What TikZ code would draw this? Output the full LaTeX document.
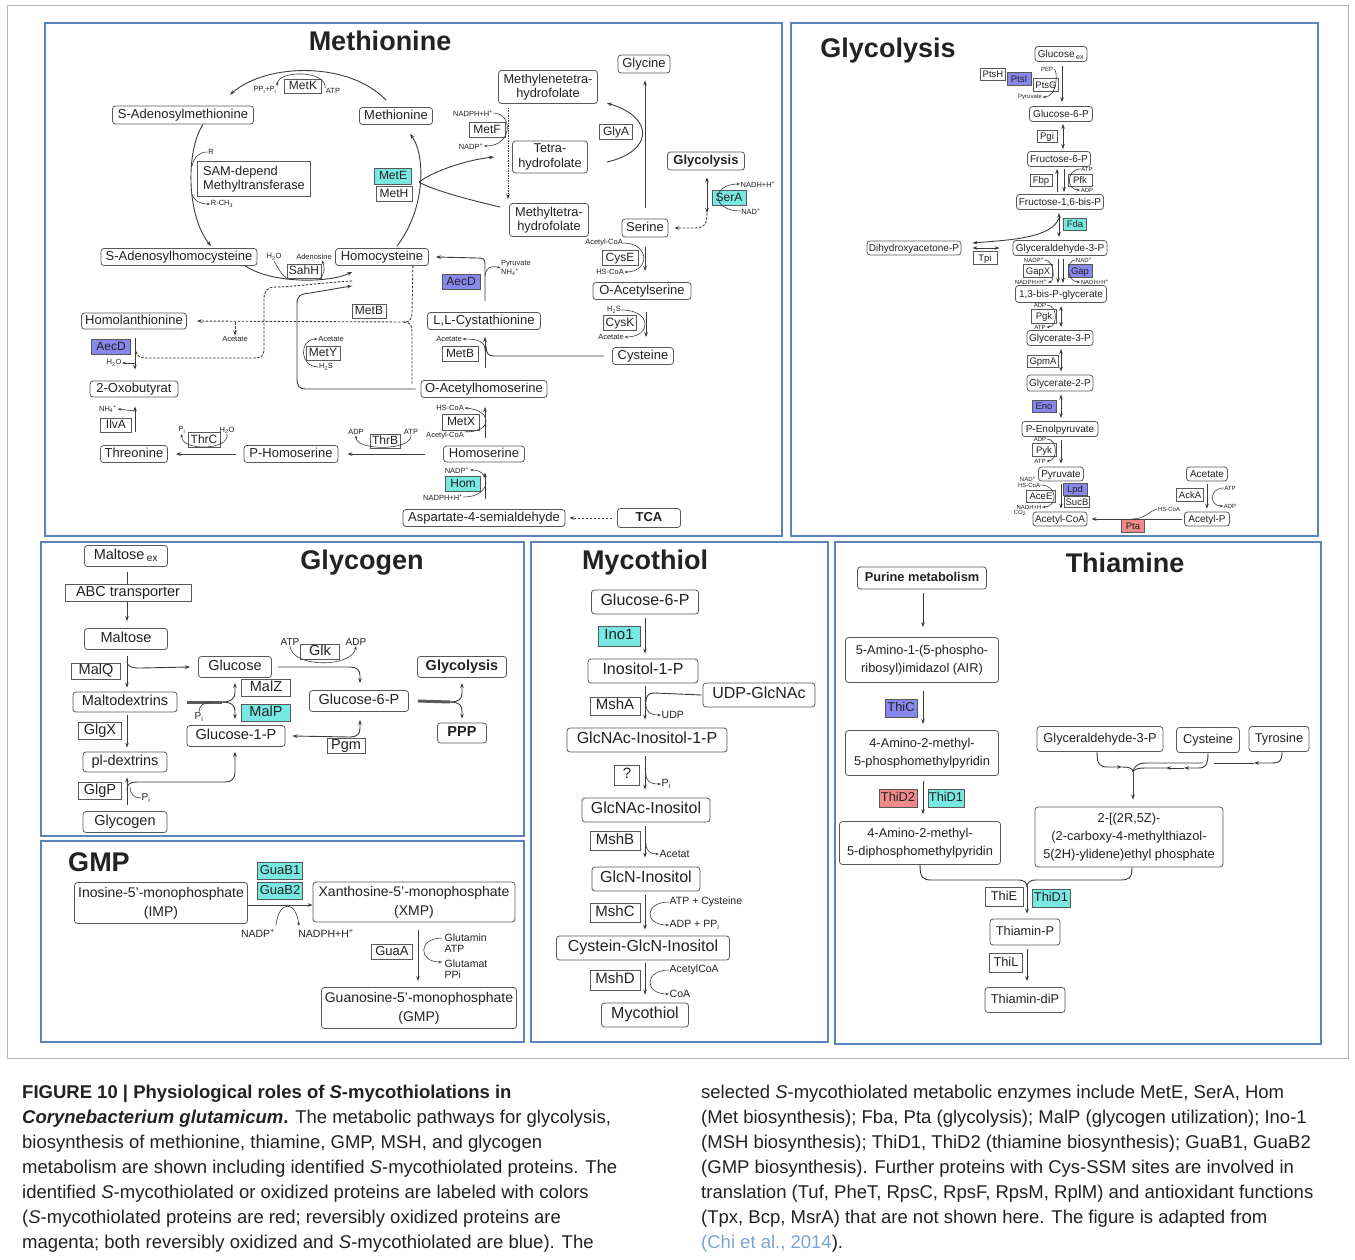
\documentclass[tikz,border=0pt]{standalone}
\usepackage{fontspec}
\setmainfont{Liberation Sans}
\usetikzlibrary{arrows.meta}

\definecolor{mycink}{HTML}{222222}
\definecolor{mycline}{HTML}{3C3C3C}
\definecolor{mycbox}{HTML}{585858}
\definecolor{mycpanel}{HTML}{5B84BE}
\definecolor{mycframe}{HTML}{B4B4B4}
\definecolor{myccyan}{HTML}{78E8E2}
\definecolor{mycblue}{HTML}{8787EE}
\definecolor{mycred}{HTML}{EE8A8A}
\definecolor{myclink}{HTML}{7BA3D3}

\newcommand{\subx}[1]{\textsubscript{#1}}
\newcommand{\supx}[1]{\textsuperscript{#1}}
\newcommand{\fTitle}{\fontsize{27}{30}\selectfont\bfseries}
\newcommand{\fMet}{\fontsize{13}{16}\selectfont}
\newcommand{\fMetTwo}{\fontsize{12.8}{14.5}\selectfont}
\newcommand{\fMetEnz}{\fontsize{12}{14.5}\selectfont}
\newcommand{\fMetCo}{\fontsize{7.5}{8.5}\selectfont}
\newcommand{\fGly}{\fontsize{10}{12}\selectfont}
\newcommand{\fGlyEnz}{\fontsize{9.5}{11}\selectfont}
\newcommand{\fGlyCo}{\fontsize{6}{7}\selectfont}
\newcommand{\fGlg}{\fontsize{14.5}{17}\selectfont}
\newcommand{\fGlgCo}{\fontsize{10}{11}\selectfont}
\newcommand{\fGmp}{\fontsize{14}{19}\selectfont}
\newcommand{\fGmpEnz}{\fontsize{13}{15}\selectfont}
\newcommand{\fGmpCo}{\fontsize{10.5}{11.5}\selectfont}
\newcommand{\fMsh}{\fontsize{16}{19}\selectfont}
\newcommand{\fMshEnz}{\fontsize{15}{17}\selectfont}
\newcommand{\fMshCo}{\fontsize{10.5}{12}\selectfont}
\newcommand{\fThi}{\fontsize{12.8}{18.3}\selectfont}
\newcommand{\fCap}{\fontsize{18.5}{25}\selectfont}

\begin{document}
\begin{tikzpicture}[
  x=1pt,
  y=-1pt,
  every node/.style={text=mycink},
  sz/.style 2 args={minimum width=#1pt, minimum height=#2pt},
  one/.style={text height=0.72em, text depth=0.02em},
  mbox/.style={draw=mycbox, line width=0.8pt, rounded corners=3pt, fill=white, align=center, inner sep=1pt},
  ebox/.style={draw=mycbox, line width=0.8pt, fill=white, align=center, inner sep=1pt},
  cof/.style={inner sep=0.5pt, align=left},
  cyanfill/.style={fill=myccyan},
  bluefill/.style={fill=mycblue},
  redfill/.style={fill=mycred},
  frame/.style={draw=mycframe, line width=0.8pt},
  panel/.style={draw=mycpanel, line width=1.1pt},
  ptitle/.style={font=\fTitle, inner sep=0pt},
  conv/.style={draw=mycline, line width=0.9pt, >={Stealth[length=5pt, width=3.6pt]}, ->},
  convb/.style={conv, <->},
  link/.style={draw=mycline, line width=0.9pt},
  dashconv/.style={conv, dash pattern=on 2.5pt off 1.5pt},
  dashlink/.style={link, dash pattern=on 2.5pt off 1.5pt},
  dotconv/.style={conv, dash pattern=on 1.2pt off 1.3pt},
  sidearr/.style={draw=mycline, line width=0.6pt, >={Stealth[length=3.5pt, width=2.6pt]}, ->},
  sideline/.style={draw=mycline, line width=0.6pt},
  bar/.style={draw=mycline!85, line width=3pt},
  metMe/.style={mbox, font=\fMet, one},
  metMeML/.style={mbox, font=\fMetTwo},
  enzMe/.style={ebox, font=\fMetEnz, one},
  coMe/.style={cof, font=\fMetCo},
  metGl/.style={mbox, font=\fGly, one},
  enzGl/.style={ebox, font=\fGlyEnz, one},
  coGl/.style={cof, font=\fGlyCo},
  metGg/.style={mbox, font=\fGlg, one},
  enzGg/.style={ebox, font=\fGlg, one},
  coGg/.style={cof, font=\fGlgCo},
  metGm/.style={mbox, font=\fGmp},
  enzGm/.style={ebox, font=\fGmpEnz, one},
  coGm/.style={cof, font=\fGmpCo},
  metMs/.style={mbox, font=\fMsh, one},
  enzMs/.style={ebox, font=\fMshEnz, one},
  coMs/.style={cof, font=\fMshCo},
  metTh/.style={mbox, font=\fThi, one},
  metThML/.style={mbox, font=\fThi},
  enzTh/.style={ebox, font=\fThi, one}
]
  % ---- page and outer frame ---------------------------------------------
  \useasboundingbox (0,0) rectangle (1355,1259);
  \fill[white] (0,0) rectangle (1355,1259);
  \draw[frame] (7,5) rectangle (1348,1058);

  % ---- Methionine --------------------------------------------------------
  \draw[panel] (45,23) rectangle (782,536);
  \node[ptitle] (titMet) at (380,41) {Methionine};

  \node[metMe, sz={141}{18}] (sam) at (183,115) {S-Adenosylmethionine};
  \node[metMe, sz={73}{17}] (met) at (396,116) {Methionine};
  \node[ebox, font=\fMetTwo, align=left, sz={113}{35}] (samMT) at (254,179) {SAM-depend\\Methyltransferase};
  \node[metMe, sz={156}{17}] (sah) at (179,257) {S-Adenosylhomocysteine};
  \node[metMe, sz={93}{17}] (hcy) at (382,257) {Homocysteine};
  \node[enzMe, sz={37}{14}] (metK) at (303,86) {MetK};
  \node[coMe] (ppK) at (265,90) {PP\subx{i}+P\subx{i}};
  \node[coMe] (atpK) at (333,91) {ATP};
  \node[enzMe, sz={37}{16}, cyanfill] (metE) at (393,176) {MetE};
  \node[enzMe, sz={36}{15}] (metH) at (394,194) {MetH};
  \node[coMe] (rIn) at (211,152) {R};
  \node[coMe] (rOut) at (222,204) {R-CH\subx{3}};
  \node[coMe] (h2oS) at (274,257) {H\subx{2}O};
  \node[coMe] (adoS) at (314,257) {Adenosine};
  \node[enzMe, sz={34}{14}] (sahH) at (304,271) {SahH};

  \draw[conv] ([shift={(-10,-7)}]met.north) .. controls (350,62) and (268,62) .. ([shift={(47,-11)}]sam.north);
  \draw[sidearr] (atpK.north west) .. controls (326,70) and (278,70) .. (ppK.north east);
  \draw[conv] ([shift={(20,0)}]sam.south) .. controls (186,150) and (186,215) .. ([shift={(32,-2)}]sah.north);
  \coordinate (samR) at (192,166);
  \coordinate (samRCH) at (192,194);
  \draw[sideline] (rIn.west) .. controls (199,152) and (194,157) .. (samR);
  \draw[sidearr] (samRCH) .. controls (194,201) and (200,204) .. (rOut.west);
  \draw[conv] ([shift={(15,-2)}]hcy.north) .. controls (428,205) and (424,152) .. ([shift={(14,9)}]met.south);

  \node[metMeML, sz={99}{33}] (mlthf) at (548,87) {Methylenetetra-\\hydrofolate};
  \node[metMeML, sz={75}{32}] (thf) at (550,157) {Tetra-\\hydrofolate};
  \node[metMeML, sz={79}{33}] (mthf) at (549,220) {Methyltetra-\\hydrofolate};
  \coordinate (meCusp) at (419,182);
  \draw[link] ([shift={(-9,-13)}]mthf.west) .. controls (470,200) and (432,190) .. (meCusp);
  \draw[conv] (meCusp) .. controls (432,172) and (465,160) .. ([shift={(-18,0)}]thf.west);

  \coordinate (sahA) at (288,279);
  \coordinate (sahB) at (319,279);
  \draw[conv] ([shift={(-12,0)}]sah.south east) .. controls (272,284) and (330,283) .. ([shift={(17,6)}]hcy.south west);
  \draw[sideline] (h2oS.south) .. controls (277,266) and (281,275) .. (sahA);
  \draw[sidearr] (sahB) .. controls (325,275) and (325,267) .. ([xshift=8pt]adoS.south);

  % side routes of homocysteine
  \node[enzMe, sz={34}{14}] (metB1) at (369,311) {MetB};
  \node[metMe, sz={105}{16}] (hla) at (134,321) {Homolanthionine};
  \node[coMe] (acA) at (235,339) {Acetate};
  \node[enzMe, sz={39}{15}, bluefill] (aecD1) at (111,347) {AecD};
  \node[coMe] (h2oA) at (114,363) {H\subx{2}O};
  \node[metMe, sz={88}{16}] (oxb) at (134,389) {2-Oxobutyrat};
  \node[enzMe, sz={31}{14}] (ilvA) at (116,425) {IlvA};
  \node[coMe] (nh4I) at (108,409) {NH\subx{4}\supx{+}};

  \draw[dashlink] ([shift={(17,15)}]hcy.south west) .. controls (320,283) and (290,287) .. (276,287) .. controls (267,287) and (264,291) .. (264,299) -- (264,349) .. controls (264,356) and (261,358) .. (254,358) -- (146,358) .. controls (139,358) and (136,355) .. (136,350);
  \draw[dashlink] ([shift={(-16,0)}]hcy.south east) -- (412,312) .. controls (412,319) and (410,322) .. (404,322);
  \draw[dashlink] (404,322) .. controls (410,322) and (412,325) .. (412,332) -- (412,385);
  \draw[dashconv, shorten >=10pt] (404,322) -- (hla.east);
  \draw[dashconv] (235,322) -- (acA.north);
  \draw[conv] ([shift={(1,9)}]hla.south) -- ([shift={(1,-11)}]oxb.north);
  \draw[sidearr] (135,363) -- (h2oA.east);

  \node[metMe, sz={67}{17}] (thr) at (134,454) {Threonine};
  \node[metMe, sz={94}{17}] (phs) at (291,454) {P-Homoserine};
  \node[enzMe, sz={32}{15}] (thrC) at (204,440) {ThrC};
  \node[coMe] (piT) at (182,430) {P\subx{i}};
  \node[coMe] (h2oT) at (227,430) {H\subx{2}O};
  \draw[conv] ([shift={(1,-13)}]thr.north) -- ([shift={(1,9)}]oxb.south);
  \draw[sidearr] (135,411) -- (nh4I.east);
  \draw[conv, shorten <=8pt, shorten >=8pt] (phs.west) -- (thr.east);
  \draw[sidearr] (h2oT.south) .. controls (230,451) and (180,451) .. (piT.south);

  \node[enzMe, sz={30}{14}] (thrB) at (385,441) {ThrB};
  \node[coMe] (adpB) at (356,432) {ADP};
  \node[coMe] (atpB) at (411,432) {ATP};
  \node[metMe, sz={81}{16}] (hse) at (484,454) {Homoserine};
  \node[metMe, sz={126}{17}] (oah) at (484,389) {O-Acetylhomoserine};
  \draw[conv, shorten <=18pt, shorten >=9pt] (hse.west) -- (phs.east);
  \draw[sidearr] (atpB.south) .. controls (412,451) and (356,451) .. (adpB.south);

  \node[enzMe, sz={37}{16}] (metX) at (461,422) {MetX};
  \node[coMe] (hscoaX) at (450,408) {HS-CoA};
  \node[coMe] (accoaX) at (445,436) {Acetyl-CoA};
  \draw[conv] ([shift={(1,-8)}]hse.north) -- ([shift={(1,9)}]oah.south);
  \draw[sidearr] (accoaX.north east) .. controls (493,433) and (493,410) .. (hscoaX.east);

  \node[enzMe, sz={34}{14}] (metY) at (323,353) {MetY};
  \node[coMe] (acY) at (331,339) {Acetate};
  \node[coMe] (h2sY) at (326,367) {H\subx{2}S};
  \draw[conv] ([xshift=-5pt]oah.west) -- (306,389) .. controls (299,389) and (297,386) .. (297,378) -- (297,304) .. controls (297,296) and (300,294) .. (310,293) -- ([shift={(17,20)}]hcy.south west);
  \draw[sidearr] (h2sY.west) .. controls (299,367) and (299,339) .. (acY.west);

  \node[metMe, sz={113}{17}] (cth) at (484,321) {L,L-Cystathionine};
  \node[enzMe, sz={36}{15}] (metB2) at (460,354) {MetB};
  \node[coMe] (acB) at (449,339) {Acetate};
  \node[metMe, sz={61}{17}] (cys) at (643,356) {Cysteine};
  \coordinate (cysJoin) at (486,346);
  \draw[conv] ([shift={(1,-12)}]oah.north) -- ([shift={(1,7)}]cth.south);
  \draw[link] ([xshift=-8pt]cys.west) -- (494,356) .. controls (488,356) and (486,353) .. (cysJoin);
  \draw[sidearr] (485,351) .. controls (485,342) and (480,339) .. (acB.east);

  \node[enzMe, sz={38}{15}, bluefill] (aecD2) at (461,282) {AecD};
  \node[coMe] (pyrA) at (516,268) {Pyruvate\\NH\subx{4}\supx{+}};
  \draw[conv] ([shift={(1,-11)}]cth.north) -- (485,264) .. controls (485,259) and (483,258) .. (478,258) -- ([xshift=7pt]hcy.east);
  \draw[sidearr] (485,276) .. controls (486,268) and (490,265) .. (pyrA.west);

  \node[metMe, sz={98}{17}] (oas) at (642,291) {O-Acetylserine};
  \node[enzMe, sz={33}{15}] (cysK) at (620,323) {CysK};
  \node[coMe] (h2sK) at (614,310) {H\subx{2}S};
  \node[coMe] (acK) at (611,337) {Acetate};
  \draw[conv] ([shift={(4,12)}]oas.south) -- ([shift={(3,-10)}]cys.north);
  \draw[sidearr] (h2sK.east) .. controls (652,310) and (652,337) .. (acK.east);

  \node[metMe, sz={46}{18}] (ser) at (645,228) {Serine};
  \node[enzMe, sz={36}{15}] (cysE) at (620,258) {CysE};
  \node[coMe] (accoaE) at (604,243) {Acetyl-CoA};
  \node[coMe] (hscoaE) at (610,272) {HS-CoA};
  \draw[conv] ([shift={(0,10)}]ser.south) -- ([shift={(3,-11)}]oas.north);
  \draw[sidearr] (accoaE.east) .. controls (650,243) and (650,272) .. (hscoaE.east);

  \node[metMe, sz={52}{18}] (gly) at (644,64) {Glycine};
  \node[enzMe, sz={33}{15}] (glyA) at (616,132) {GlyA};
  \draw[conv] ([shift={(0,-11)}]ser.north) -- ([shift={(1,7)}]gly.south);
  \draw[conv] ([shift={(19,5)}]thf.east) .. controls (652,152) and (656,118) .. ([shift={(9,16)}]mlthf.east);

  \node[enzMe, sz={36}{15}] (metF) at (487,130) {MetF};
  \node[coMe] (nadphF) at (473,113) {NADPH+H\supx{+}};
  \node[coMe] (nadpF) at (471,146) {NADP\supx{+}};
  \draw[dotconv] ([shift={(-40,4)}]mlthf.south) -- ([shift={(-41,-4)}]mthf.north);
  \draw[sidearr] (nadphF.east) .. controls (513,113) and (513,146) .. (nadpF.east);

  \node[metMe, sz={77}{18}, font=\fMet\bfseries] (glyc1) at (706,161) {Glycolysis};
  \node[enzMe, sz={34}{15}, cyanfill] (serA) at (729,198) {SerA};
  \node[coMe] (nadhS) at (758,184) {NADH+H\supx{+}};
  \node[coMe] (nadS) at (751,211) {NAD\supx{+}};
  \draw[convb] ([shift={(1,7)}]glyc1.south) -- (707,213);
  \draw[dashconv] (707,213) .. controls (707,226) and (703,228) .. (694,228) -- ([xshift=6pt]ser.east);
  \draw[sidearr] (nadS.west) .. controls (711,211) and (711,184) .. (nadhS.west);

  \node[metMe, sz={162}{17}] (asa) at (484,518) {Aspartate-4-semialdehyde};
  \node[metMe, sz={63}{19}, font=\fMet\bfseries] (tca) at (649,518) {TCA};
  \node[enzMe, sz={35}{15}, cyanfill] (hom) at (463,484) {Hom};
  \node[coMe] (nadpH) at (457,470) {NADP\supx{+}};
  \node[coMe] (nadphH) at (443,497) {NADPH+H\supx{+}};
  \draw[dashconv] ([xshift=-5pt]tca.west) -- ([xshift=4pt]asa.east);
  \draw[conv] ([shift={(1,-10)}]asa.north) -- ([shift={(1,10)}]hse.south);
  \draw[sidearr] (nadphH.east) .. controls (492,497) and (492,470) .. (nadpH.east);

  % ---- Glycolysis --------------------------------------------------------
  \draw[panel] (791,23) rectangle (1318,536);
  \node[ptitle] (titGly) at (888,51) {Glycolysis};

  \node[metGl, sz={52}{15}] (glcex) at (1061,54) {Glucose\,\subx{ex}};
  \node[enzGl, sz={25}{12}] (ptsH) at (993,74) {PtsH};
  \node[enzGl, sz={24}{13}, bluefill] (ptsI) at (1019,79) {PtsI};
  \node[enzGl, sz={25}{13}] (ptsG) at (1046,85) {PtsG};
  \node[coGl] (pepP) at (1047,69) {PEP};
  \node[coGl] (pyrP) at (1030,97) {Pyruvate};
  \node[metGl, sz={63}{15}] (g6pA) at (1061,114) {Glucose-6-P};
  \draw[conv] ([shift={(1,4)}]glcex.south) -- ([shift={(1,-4)}]g6pA.north);
  \draw[sidearr] (pepP.east) .. controls (1058,69) and (1058,97) .. (pyrP.east);

  \node[enzGl, sz={20}{12}] (pgi) at (1047,136) {Pgi};
  \node[metGl, sz={63}{15}] (f6p) at (1059,159) {Fructose-6-P};
  \draw[convb] ([shift={(2,2)}]g6pA.south) -- ([shift={(4,-2)}]f6p.north);

  \node[enzGl, sz={22}{12}] (fbp) at (1041,180) {Fbp};
  \node[enzGl, sz={24}{12}] (pfk) at (1080,180) {Pfk};
  \node[coGl] (atpF) at (1087,169) {ATP};
  \node[coGl] (adpF) at (1087,190) {ADP};
  \node[metGl, sz={87}{15}] (fbpP) at (1060,202) {Fructose-1,6-bis-P};
  \draw[conv] ([shift={(-3,-2)}]fbpP.north) -- ([shift={(-2,2)}]f6p.south);
  \draw[conv] ([shift={(5,2)}]f6p.south) -- ([shift={(4,-2)}]fbpP.north);
  \draw[sidearr] (atpF.west) .. controls (1066,169) and (1066,190) .. (adpF.west);

  \node[enzGl, sz={23}{12}, cyanfill] (fda) at (1075,224) {Fda};
  \node[metGl, sz={94}{14}] (dhap) at (914,248) {Dihydroxyacetone-P};
  \node[enzGl, sz={24}{13}] (tpi) at (985,258) {Tpi};
  \node[metGl, sz={94}{15}] (g3pA) at (1060,248) {Glyceraldehyde-3-P};
  \coordinate (fdaSplit) at (1059,218);
  \draw[convb] ([shift={(-1,3)}]fbpP.south) -- ([shift={(-1,-3)}]g3pA.north);
  \draw[conv] (fdaSplit) .. controls (1052,238) and (1010,240) .. ([shift={(11,-5)}]dhap.east);
  \draw[convb] ([xshift=11pt]dhap.east) -- ([xshift=-13pt]g3pA.west);

  \node[enzGl, sz={29}{13}] (gapX) at (1038,271) {GapX};
  \node[enzGl, sz={24}{13}, bluefill] (gap) at (1080,271) {Gap};
  \node[coGl] (nadpG) at (1034,260) {NADP\supx{+}};
  \node[coGl] (nadG) at (1084,260) {NAD\supx{+}};
  \node[coGl] (nadphG) at (1031,282) {NADPH+H\supx{+}};
  \node[coGl] (nadhG) at (1095,282) {NADH+H\supx{+}};
  \node[metGl, sz={91}{17}] (bpg) at (1061,294) {1,3-bis-P-glycerate};
  \draw[conv] ([shift={(-2,3)}]g3pA.south) -- ([shift={(-3,-2)}]bpg.north);
  \draw[conv] ([shift={(3,3)}]g3pA.south) -- ([shift={(2,-2)}]bpg.north);
  \draw[sidearr] (nadpG.east) .. controls (1055,260) and (1055,282) .. (nadphG.east);
  \draw[sidearr] (nadG.west) .. controls (1066,260) and (1066,282) .. (nadhG.west);

  \node[enzGl, sz={25}{14}] (pgk) at (1044,316) {Pgk};
  \node[coGl] (adpK) at (1040,305) {ADP};
  \node[coGl] (atpK2) at (1040,327) {ATP};
  \node[metGl, sz={66}{15}] (pg3) at (1060,338) {Glycerate-3-P};
  \draw[convb] ([shift={(0,3)}]bpg.south) -- ([shift={(1,-3)}]pg3.north);
  \draw[sidearr] (adpK.east) .. controls (1058,305) and (1058,327) .. (atpK2.east);

  \node[enzGl, sz={31}{12}] (gpmA) at (1043,361) {GpmA};
  \node[metGl, sz={66}{16}] (pg2) at (1060,383) {Glycerate-2-P};
  \draw[convb] ([shift={(1,3)}]pg3.south) -- ([shift={(1,-3)}]pg2.north);

  \node[enzGl, sz={24}{12}, bluefill] (eno) at (1044,406) {Eno};
  \node[metGl, sz={76}{15}] (pep) at (1060,429) {P-Enolpyruvate};
  \draw[convb] ([shift={(1,3)}]pg2.south) -- ([shift={(1,-3)}]pep.north);

  \node[enzGl, sz={24}{13}] (pyk) at (1044,450) {Pyk};
  \node[coGl] (adpY) at (1040,439) {ADP};
  \node[coGl] (atpY) at (1040,461) {ATP};
  \node[metGl, sz={45}{14}] (pyr) at (1061,474) {Pyruvate};
  \draw[conv] ([shift={(1,3)}]pep.south) -- ([shift={(0,-3)}]pyr.north);
  \draw[sidearr] (adpY.east) .. controls (1058,439) and (1058,461) .. (atpY.east);

  \node[enzGl, sz={24}{12}, bluefill] (lpd) at (1075,489) {Lpd};
  \node[enzGl, sz={25}{11}] (sucB) at (1077,502) {SucB};
  \node[enzGl, sz={29}{12}] (aceE) at (1041,496) {AceE};
  \node[coGl] (nadE) at (1028,479) {NAD\supx{+}};
  \node[coGl] (hscoaE2) at (1029,485) {HS-CoA};
  \node[coGl] (nadhE) at (1029,507) {NADH+H};
  \node[coGl] (co2E) at (1020,513) {CO\subx{2}};
  \node[metGl, sz={54}{14}] (accoa) at (1060,519) {Acetyl-CoA};
  \draw[conv] ([shift={(0,3)}]pyr.south) -- ([shift={(1,-3)}]accoa.north);
  \draw[sidearr] (hscoaE2.east) .. controls (1058,485) and (1058,507) .. (nadhE.east);

  \node[metGl, sz={41}{14}] (acet) at (1207,474) {Acetate};
  \node[enzGl, sz={27}{13}] (ackA) at (1190,495) {AckA};
  \node[coGl] (atpA) at (1230,488) {ATP};
  \node[coGl] (adpA) at (1230,506) {ADP};
  \node[metGl, sz={45}{14}] (acp) at (1207,519) {Acetyl-P};
  \node[enzGl, sz={23}{13}, redfill] (pta) at (1133,526) {Pta};
  \node[coGl] (hscoaP) at (1169,509) {HS-CoA};
  \draw[conv] ([shift={(0,3)}]acet.south) -- ([shift={(0,-3)}]acp.north);
  \draw[sidearr] (atpA.west) .. controls (1209,488) and (1209,506) .. (adpA.west);
  \draw[conv] ([xshift=-2pt]acp.west) -- ([xshift=4pt]accoa.east);
  \draw[sideline] (hscoaP.west) .. controls (1150,510) and (1146,519) .. (1132,519);

  % ---- Glycogen ----------------------------------------------------------
  \draw[panel] (41,542) rectangle (524,836);
  \node[ptitle] (titGlg) at (362,563) {Glycogen};

  \node[metGg, sz={83}{21}] (maltex) at (126,556) {Maltose\,\subx{ex}};
  \node[enzGg, sz={126}{17}] (abc) at (128,593) {ABC transporter};
  \node[metGg, sz={83}{21}] (malt) at (126,639) {Maltose};
  \node[enzGg, sz={49}{16}] (malQ) at (96,671) {MalQ};
  \node[metGg, sz={73}{21}] (glc) at (235,667) {Glucose};
  \node[metGg, sz={104}{20}] (mdex) at (125,702) {Maltodextrins};
  \node[enzGg, sz={49}{17}] (malZ) at (266,688) {MalZ};
  \node[enzGg, sz={49}{17}, cyanfill] (malP) at (266,713) {MalP};
  \node[metGg, sz={98}{21}] (g1p) at (236,736) {Glucose-1-P};
  \node[enzGg, sz={43}{17}] (glgX) at (100,731) {GlgX};
  \node[metGg, sz={84}{20}] (pldex) at (125,762) {pl-dextrins};
  \node[enzGg, sz={43}{17}] (glgP) at (100,791) {GlgP};
  \node[metGg, sz={84}{21}] (glyg) at (125,822) {Glycogen};
  \node[enzGg, sz={39}{15}] (glk) at (320,652) {Glk};
  \node[coGg] (atpG) at (290,642) {ATP};
  \node[coGg] (adpG) at (356,642) {ADP};
  \node[metGg, sz={99}{21}] (g6pG) at (359,701) {Glucose-6-P};
  \node[enzGg, sz={38}{15}] (pgm) at (346,746) {Pgm};
  \node[metGg, sz={89}{21}, font=\fGlg\bfseries] (glycG) at (462,667) {Glycolysis};
  \node[metGg, sz={49}{20}, font=\fGlg\bfseries] (ppp) at (462,733) {PPP};
  \node[coGg] (piZ) at (199,717) {P\subx{i}};
  \node[coGg] (piP) at (146,798) {P\subx{i}};

  \coordinate (malQSplit) at (127,661);
  \coordinate (mdexSplit) at (222,702);
  \coordinate (glgPSplit) at (127,790);
  \coordinate (g6pSplit) at (450,702);
  \draw[link, shorten <=5pt] ([xshift=1pt]maltex.south) -- ([xshift=-1pt]abc.north);
  \draw[conv, shorten >=7pt] ([xshift=-1pt]abc.south) -- ([xshift=1pt]malt.north);
  \draw[conv] ([shift={(1,6)}]malt.south) -- ([shift={(2,-4)}]mdex.north);
  \draw[conv] (malQSplit) .. controls (127,667) and (132,668) .. (140,668) -- ([xshift=-8pt]glc.west);
  \draw[bar] ([xshift=10pt]mdex.east) -- (mdexSplit);
  \draw[conv] (mdexSplit) .. controls (232,702) and (235,698) .. (235,692) -- ([shift={(0,5)}]glc.south);
  \draw[conv] (mdexSplit) .. controls (232,702) and (235,706) .. (235,711) -- ([shift={(-1,-6)}]g1p.north);
  \draw[sideline] (piZ.north) .. controls (199,706) and (203,702) .. (212,702);
  \draw[conv] ([shift={(2,3)}]mdex.south) -- ([shift={(2,-4)}]pldex.north);
  \draw[conv] ([shift={(2,-6)}]glyg.north) -- ([shift={(2,5)}]pldex.south);
  \draw[conv] (glgPSplit) .. controls (127,784) and (130,782) .. (137,782) -- (225,782) .. controls (232,782) and (235,778) .. (235,772) -- ([shift={(-1,5)}]g1p.south);
  \draw[sideline] (piP.west) .. controls (134,798) and (130,794) .. (130,787);
  \draw[conv] ([xshift=6pt]glc.east) -- (350,667) .. controls (357,667) and (360,670) .. (360,676) -- ([shift={(1,-7)}]g6pG.north);
  \draw[sidearr] (atpG.south) .. controls (292,668) and (352,668) .. (adpG.south);
  \draw[convb] ([xshift=7pt]g1p.east) -- (350,737) .. controls (357,737) and (360,734) .. (360,728) -- ([shift={(1,8)}]g6pG.south);
  \draw[bar] ([xshift=9pt]g6pG.east) -- (g6pSplit);
  \draw[conv] (g6pSplit) .. controls (459,702) and (462,699) .. (462,693) -- ([shift={(0,5)}]glycG.south);
  \draw[conv] (g6pSplit) .. controls (459,702) and (462,705) .. (462,711) -- ([shift={(0,-4)}]ppp.north);

  % ---- GMP ---------------------------------------------------------------
  \draw[panel] (41,841) rectangle (524,1042);
  \node[ptitle] (titGmp) at (99,862) {GMP};

  \node[metGm, sz={173}{41}] (imp) at (161,903) {Inosine-5'-monophosphate\\(IMP)};
  \node[metGm, sz={202}{40}] (xmp) at (414,902) {Xanthosine-5'-monophosphate\\(XMP)};
  \node[metGm, sz={195}{41}] (gmp) at (419,1008) {Guanosine-5'-monophosphate\\(GMP)};
  \node[enzGm, sz={45}{17}, cyanfill] (guaB1) at (280,871) {GuaB1};
  \node[enzGm, sz={45}{17}, cyanfill] (guaB2) at (280,891) {GuaB2};
  \node[coGm] (nadpX) at (258,933) {NADP\supx{+}};
  \node[coGm] (nadphX) at (326,933) {NADPH+H\supx{+}};
  \node[enzGm, sz={41}{15}] (guaA) at (392,952) {GuaA};
  \node[coGm, anchor=west] (glnA) at (444,943) {Glutamin\\ATP};
  \node[coGm, anchor=west] (gluA) at (444,969) {Glutamat\\PPi};

  \draw[conv] ([yshift=-2pt]imp.east) -- ([yshift=-3pt]xmp.west);
  \draw[sidearr] ([shift={(18,-3)}]nadpX.north) .. controls (279,900) and (296,900) .. ([shift={(-27,-2)}]nadphX.north);
  \draw[conv] ([shift={(4,8)}]xmp.south) -- ([shift={(-1,-6)}]gmp.north);
  \draw[sidearr] ([shift={(-2,-5)}]glnA.west) .. controls (418,938) and (418,962) .. ([shift={(-2,-7)}]gluA.west);

  % ---- Mycothiol ---------------------------------------------------------
  \draw[panel] (531,542) rectangle (828,1042);
  \node[ptitle] (titMsh) at (645,563) {Mycothiol};

  \node[metMs, sz={107}{24}] (g6pM) at (645,602) {Glucose-6-P};
  \node[enzMs, sz={42}{20}, cyanfill] (ino1) at (619,636) {Ino1};
  \node[metMs, sz={110}{24}] (ino) at (643,671) {Inositol-1-P};
  \node[enzMs, sz={50}{18}] (mshA) at (615,706) {MshA};
  \node[metMs, sz={112}{24}] (udpg) at (759,695) {UDP-GlcNAc};
  \node[coMs, anchor=west] (udp) at (661,715) {UDP};
  \node[metMs, sz={160}{24}] (gip) at (647,740) {GlcNAc-Inositol-1-P};
  \node[enzMs, sz={25}{20}] (unk) at (627,775) {?};
  \node[coMs, anchor=west] (piM) at (661,784) {P\subx{i}};
  \node[metMs, sz={128}{24}] (gi) at (646,810) {GlcNAc-Inositol};
  \node[enzMs, sz={50}{19}] (mshB) at (615,841) {MshB};
  \node[coMs, anchor=west] (acetM) at (659,854) {Acetat};
  \node[metMs, sz={108}{24}] (glcn) at (646,879) {GlcN-Inositol};
  \node[enzMs, sz={50}{19}] (mshC) at (615,913) {MshC};
  \node[coMs, anchor=west] (atpM) at (669,902) {ATP + Cysteine};
  \node[coMs, anchor=west] (adpM) at (669,925) {ADP + PP\subx{i}};
  \node[metMs, sz={173}{24}] (cgi) at (643,948) {Cystein-GlcN-Inositol};
  \node[enzMs, sz={50}{20}] (mshD) at (615,980) {MshD};
  \node[coMs, anchor=west] (accoaM) at (669,970) {AcetylCoA};
  \node[coMs, anchor=west] (coaM) at (669,994) {CoA};
  \node[metMs, sz={87}{24}] (msh) at (645,1015) {Mycothiol};

  \draw[conv] ([shift={(0,4)}]g6pM.south) -- ([shift={(2,-5)}]ino.north);
  \draw[conv] ([shift={(2,3)}]ino.south) -- ([shift={(-2,-8)}]gip.north);
  \draw[link] ([xshift=-1pt]udpg.west) -- (655,693) .. controls (648,693) and (646,696) .. (646,702);
  \draw[sidearr] (646,704) .. controls (646,712) and (650,715) .. (udp.west);
  \draw[conv] ([shift={(-2,4)}]gip.south) -- ([shift={(-1,-8)}]gi.north);
  \draw[sidearr] (646,774) .. controls (646,781) and (650,784) .. (piM.west);
  \draw[conv] ([shift={(-1,4)}]gi.south) -- ([shift={(-1,-9)}]glcn.north);
  \draw[sidearr] (646,843) .. controls (646,851) and (650,854) .. (acetM.west);
  \draw[conv] ([shift={(-1,4)}]glcn.south) -- ([shift={(2,-6)}]cgi.north);
  \draw[sidearr] (atpM.west) .. controls (644,902) and (644,925) .. (adpM.west);
  \draw[conv] ([shift={(2,3)}]cgi.south) -- ([shift={(0,-8)}]msh.north);
  \draw[sidearr] (accoaM.west) .. controls (644,970) and (644,994) .. (coaM.west);

  % ---- Thiamine ----------------------------------------------------------
  \draw[panel] (835,542) rectangle (1321,1044);
  \node[ptitle] (titThi) at (1125,563) {Thiamine};

  \node[metTh, sz={129}{22}, font=\fThi\bfseries] (pur) at (922,578) {Purine metabolism};
  \node[metThML, sz={153}{45}] (air) at (922,660) {5-Amino-1-(5-phospho-\\ribosyl)imidazol (AIR)};
  \node[enzTh, sz={32}{18}, bluefill] (thiC) at (901,708) {ThiC};
  \node[metThML, sz={153}{45}] (hmp) at (922,753) {4-Amino-2-methyl-\\5-phosphomethylpyridin};
  \node[enzTh, sz={38}{18}, redfill] (thiD2) at (898,798) {ThiD2};
  \node[enzTh, sz={36}{18}, cyanfill] (thiD1a) at (946,798) {ThiD1};
  \node[metThML, sz={161}{43}] (hmppp) at (920,843) {4-Amino-2-methyl-\\5-diphosphomethylpyridin};
  \node[metTh, sz={126}{25}] (g3pT) at (1100,739) {Glyceraldehyde-3-P};
  \node[metTh, sz={63}{25}] (cysT) at (1208,740) {Cysteine};
  \node[metTh, sz={60}{25}] (tyrT) at (1279,739) {Tyrosine};
  \node[metThML, sz={188}{60}] (thz) at (1129,837) {2-[(2R,5Z)-\\(2-carboxy-4-methylthiazol-\\5(2H)-ylidene)ethyl phosphate};
  \node[enzTh, sz={38}{19}] (thiE) at (1004,897) {ThiE};
  \node[enzTh, sz={38}{18}, cyanfill] (thiD1b) at (1051,898) {ThiD1};
  \node[metTh, sz={70}{26}] (tmp) at (1025,932) {Thiamin-P};
  \node[enzTh, sz={33}{19}] (thiL) at (1006,963) {ThiL};
  \node[metTh, sz={80}{25}] (tpp) at (1025,1000) {Thiamin-diP};

  \draw[conv] ([shift={(1,4)}]pur.south) -- ([shift={(1,-10)}]air.north);
  \draw[conv] ([shift={(1,8)}]air.south) -- ([shift={(1,-6)}]hmp.north);
  \draw[conv] ([shift={(1,5)}]hmp.south) -- ([shift={(3,-7)}]hmppp.north);

  \coordinate (thzJoin) at (1133,772);
  \draw[conv] ([xshift=-3pt]g3pT.south) .. controls (1097,765) and (1100,767) .. (1108,767) -- (1122,767);
  \draw[link] (1122,767) .. controls (1129,767) and (1133,768) .. (thzJoin);
  \draw[conv] ([xshift=3pt]tyrT.south) .. controls (1282,762) and (1279,763) .. (1272,763) -- (1254,763);
  \draw[link] (1254,763) -- (1214,763);
  \draw[link] (1203,763) -- (1146,763) .. controls (1138,763) and (1134,766) .. (thzJoin);
  \draw[conv] (cysT.south) .. controls (1208,766) and (1205,768) .. (1198,768) -- (1184,768);
  \draw[conv] (1184,768) -- (1166,768);
  \draw[link] (1166,768) -- (1146,768) .. controls (1138,768) and (1134,769) .. (thzJoin);
  \draw[conv] (thzJoin) -- ([shift={(4,-7)}]thz.north);

  \coordinate (thiJoin) at (1027,887);
  \draw[link] (hmppp.south) .. controls (920,878) and (923,880) .. (932,880) -- (1018,880) .. controls (1025,880) and (1027,883) .. (thiJoin);
  \draw[link] ([xshift=3pt]thz.south) .. controls (1132,878) and (1129,880) .. (1120,880) -- (1036,880) .. controls (1029,880) and (1027,883) .. (thiJoin);
  \draw[conv] (thiJoin) -- ([shift={(2,-5)}]tmp.north);
  \draw[conv] ([shift={(2,4)}]tmp.south) -- ([shift={(2,-6)}]tpp.north);

  % ---- caption -----------------------------------------------------------
  \node[anchor=north west, inner sep=0pt, align=left, font=\fCap] (capL) at (22,1085)
    {\textbf{FIGURE 10 | Physiological roles of \textit{S}-mycothiolations in}\\
     \textbf{\textit{Corynebacterium glutamicum}.} The metabolic pathways for glycolysis,\\
     biosynthesis of methionine, thiamine, GMP, MSH, and glycogen\\
     metabolism are shown including identified \textit{S}-mycothiolated proteins. The\\
     identified \textit{S}-mycothiolated or oxidized proteins are labeled with colors\\
     (\textit{S}-mycothiolated proteins are red; reversibly oxidized proteins are\\
     magenta; both reversibly oxidized and \textit{S}-mycothiolated are blue). The};
  \node[anchor=north west, inner sep=0pt, align=left, font=\fCap] (capR) at (701,1085)
    {selected \textit{S}-mycothiolated metabolic enzymes include MetE, SerA, Hom\\
     (Met biosynthesis); Fba, Pta (glycolysis); MalP (glycogen utilization); Ino-1\\
     (MSH biosynthesis); ThiD1, ThiD2 (thiamine biosynthesis); GuaB1, GuaB2\\
     (GMP biosynthesis). Further proteins with Cys-SSM sites are involved in\\
     translation (Tuf, PheT, RpsC, RpsF, RpsM, RplM) and antioxidant functions\\
     (Tpx, Bcp, MsrA) that are not shown here. The figure is adapted from\\
     \textcolor{myclink}{(Chi et al., 2014}).};
\end{tikzpicture}
\end{document}
